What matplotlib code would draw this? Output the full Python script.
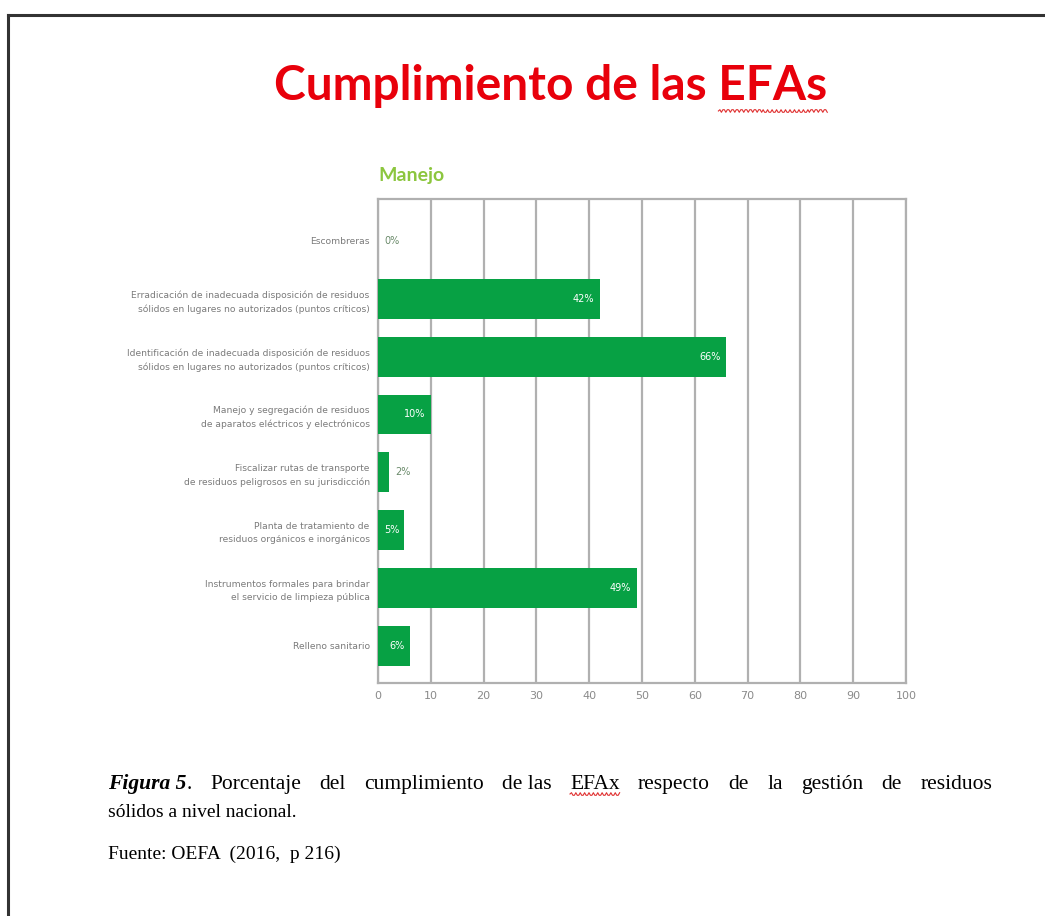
import numpy as np
import matplotlib.pyplot as plt
from matplotlib.lines import Line2D

categories = [
    "Escombreras",
    "Erradicación de inadecuada disposición de residuos\nsólidos en lugares no autorizados (puntos críticos)",
    "Identificación de inadecuada disposición de residuos\nsólidos en lugares no autorizados (puntos críticos)",
    "Manejo y segregación de residuos\nde aparatos eléctricos y electrónicos",
    "Fiscalizar rutas de transporte\nde residuos peligrosos en su jurisdicción",
    "Planta de tratamiento de\nresiduos orgánicos e inorgánicos",
    "Instrumentos formales para brindar\nel servicio de limpieza pública",
    "Relleno sanitario",
]
values = [0, 42, 66, 10, 2, 5, 49, 6]
labels = ["0%", "42%", "66%", "10%", "2%", "5%", "49%", "6%"]
xticks = [0, 10, 20, 30, 40, 50, 60, 70, 80, 90, 100]

caption_words = ["Porcentaje", "del", "cumplimiento", "de las", "EFAx",
                 "respecto", "de", "la", "gestión", "de", "residuos"]

green = "#07a144"
gray = "#8a8a8a"
narrow = ["Liberation Sans Narrow", "DejaVu Sans"]
serif = ["Liberation Serif", "DejaVu Serif"]

fig = plt.figure(figsize=(10.45, 9.16), dpi=100)
fig.patch.set_facecolor("white")
W, H = 1045, 916

# slide frame (top and left edges only)
fig.add_artist(Line2D([0.008, 1.0], [0.984, 0.984], color="#333333", lw=2.2))
fig.add_artist(Line2D([0.008, 0.008], [0.0, 0.984], color="#333333", lw=2.2))

ax = fig.add_axes([0.3617, 0.2544, 0.5053, 0.5284])
y = np.arange(len(categories))
ax.barh(y, values, height=0.69, color=green, zorder=3)
ax.set_ylim(len(categories) - 0.36, -0.725)
ax.set_xlim(0, 100)
ax.set_xticks(xticks)
ax.set_xticklabels([str(t) for t in xticks], color=gray, fontsize=8, family=narrow)
ax.set_yticks(y)
ax.set_yticklabels(categories, color="#7a7a7a", fontsize=6.6, family=narrow,
                   linespacing=1.6)
ax.tick_params(axis="both", length=0, pad=6)
ax.grid(axis="x", color="#b0b0b0", lw=1.6, zorder=0)
for s in ax.spines.values():
    s.set_color("#b0b0b0")
    s.set_linewidth(1.6)

for yi, v, lab in zip(y, values, labels):
    if v < 4:
        ax.text(v + 1.3, yi, lab, va="center", ha="left", color="#6a8a6a",
                fontsize=7, family=narrow, zorder=4)
    else:
        ax.text(v - 1.0, yi, lab, va="center", ha="right", color="white",
                fontsize=7, family=narrow, zorder=4)

fig.text(378 / W, 1 - 175 / H, "Manejo", color="#8cc63e", fontsize=14,
         fontweight="bold", family=["Lato", "DejaVu Sans"], ha="left", va="center")

title = fig.text(0.527, 1 - 100 / H, "Cumplimiento de las EFAs", color="#e8000b",
                 fontsize=34.5, fontweight="bold", family=["Lato", "DejaVu Sans"],
                 ha="center", va="baseline")

fig.canvas.draw()
r = fig.canvas.get_renderer()


def wavy(x0, x1, ypix):
    xs = np.linspace(x0, x1, int((x1 - x0) / 1.5) + 2)
    ys = ypix + 1.3 * np.sign(np.sin((xs - x0) / 2.2 * np.pi))
    fig.add_artist(Line2D(xs / W, ys / H, color="#e03030", lw=0.8))


# spell-check squiggle under "EFAs"
tb = title.get_window_extent(r)
probe = fig.text(0, 0, "EFAs", fontsize=34.5, fontweight="bold",
                 family=["Lato", "DejaVu Sans"])
pw = probe.get_window_extent(r).width
probe.remove()
wavy(tb.x1 - pw, tb.x1, tb.y0 - 3)

# justified caption first line
fs = 14
fs1 = 15.5
cy = 1 - 789 / H
x_left, x_right = 108, 992
head = fig.text(x_left / W, cy, "Figura 5", fontsize=fs1, family=serif,
                fontweight="bold", style="italic", ha="left", va="baseline")
dot = fig.text(0, cy, ".", fontsize=fs1, family=serif, ha="left", va="baseline")
hw = head.get_window_extent(r).width
dot.set_x((x_left + hw) / W)
dw = dot.get_window_extent(r).width
start = x_left + hw + dw
words = [fig.text(0, cy, w, fontsize=fs1, family=serif, ha="left", va="baseline")
         for w in caption_words]
widths = [t.get_window_extent(r).width for t in words]
gap = (x_right - start - sum(widths)) / len(words)
xpos = start + gap
for t, w, txt in zip(words, widths, caption_words):
    t.set_x(xpos / W)
    if txt == "EFAx":
        wavy(xpos, xpos + w, cy * H - 5)
    xpos += w + gap

fig.text(x_left / W, 1 - 817 / H, "sólidos a nivel nacional.", fontsize=fs,
         family=serif, ha="left", va="baseline")
fig.text(x_left / W, 1 - 859 / H, "Fuente: OEFA  (2016,  p 216)", fontsize=fs,
         family=serif, ha="left", va="baseline")

fig.savefig("out.png", dpi=100, facecolor="white")
